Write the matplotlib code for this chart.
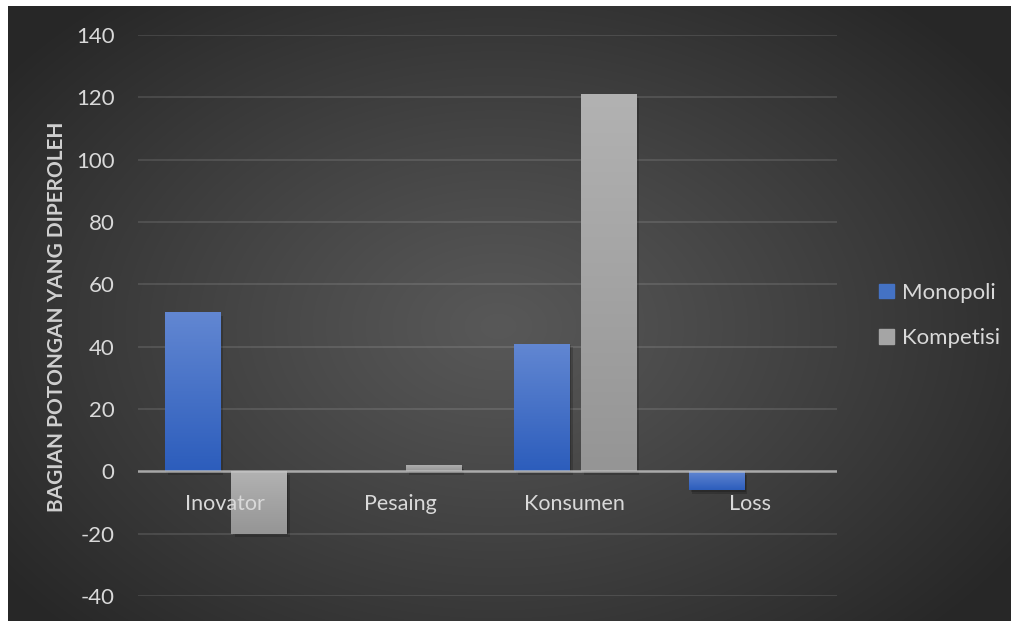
import numpy as np
import matplotlib
matplotlib.use("Agg")
import matplotlib.pyplot as plt
from matplotlib.patches import Rectangle
import matplotlib.patheffects as pe

plt.rcParams['font.family'] = ['Lato', 'DejaVu Sans']

# Data
categories = ["Inovator", "Pesaing", "Konsumen", "Loss"]
monopoli = [51, 0, 41, -6]
kompetisi = [-20, 2, 121, 0]
series_names = ["Monopoli", "Kompetisi"]
y_ticks = [-40, -20, 0, 20, 40, 60, 80, 100, 120, 140]
y_label = "BAGIAN POTONGAN YANG DIPEROLEH"

W, H = 1012, 621
fig = plt.figure(figsize=(W / 100, H / 100), dpi=100, facecolor="white")

# Dark radial-gradient backdrop (white margin on the left and top)
bg_ax = fig.add_axes([8 / W, 0, 1 - 8 / W, 1 - 6 / H])
bg_ax.set_axis_off()
yy, xx = np.mgrid[0:615, 0:1004]
cx, cy = 490, 320
r = np.sqrt(((xx - cx) / 620.0) ** 2 + ((yy - cy) / 430.0) ** 2)
r = np.clip(r, 0, 1)
c_in, c_out = 0x58 / 255, 0x27 / 255
val = c_in + (c_out - c_in) * r ** 1.1
bg = np.dstack([val, val, val])
bg_ax.imshow(bg, aspect="auto", extent=[0, 1, 0, 1], origin="upper")
bg_ax.set_xlim(0, 1)
bg_ax.set_ylim(0, 1)

ax = fig.add_axes([138 / W, 1 - 596 / H, (837 - 138) / W, (596 - 35) / H])
ax.set_facecolor("none")
for s in ax.spines.values():
    s.set_visible(False)

x = np.arange(len(categories))
bw = 0.315
off = 0.19

shadow = [pe.SimplePatchShadow(offset=(2.5, -2.5), shadow_rgbFace="black", alpha=0.18),
          pe.SimplePatchShadow(offset=(1.2, -1.2), shadow_rgbFace="black", alpha=0.18),
          pe.Normal()]

bars_m = ax.bar(x - off, monopoli, bw, color="#4672c8", linewidth=0, zorder=3)
bars_k = ax.bar(x + off, kompetisi, bw, color="#a5a5a5", linewidth=0, zorder=3)

blue_top, blue_bot = np.array([0x62, 0x87, 0xd2]) / 255, np.array([0x2c, 0x5d, 0xbc]) / 255
gray_top, gray_bot = np.array([0xb2, 0xb2, 0xb2]) / 255, np.array([0x95, 0x95, 0x95]) / 255

def fill_gradient(bars, top, bot):
    t = np.linspace(0, 1, 256)[:, None]
    grad = (top[None, :] * (1 - t) + bot[None, :] * t)[:, None, :]
    for b in bars:
        h = b.get_height()
        if h == 0:
            b.set_visible(False)
            continue
        b.set_path_effects(shadow)
        x0, y0, w = b.get_x(), b.get_y(), b.get_width()
        lo, hi = min(y0, y0 + h), max(y0, y0 + h)
        im = ax.imshow(grad, extent=[x0, x0 + w, lo, hi], origin="upper",
                       aspect="auto", zorder=4, interpolation="bilinear")
        im.set_clip_path(b)

fill_gradient(bars_m, blue_top, blue_bot)
fill_gradient(bars_k, gray_top, gray_bot)

ax.set_xlim(-0.5, len(categories) - 0.5)
ax.set_ylim(-40, 140)
ax.set_aspect("auto")

# Gridlines and zero axis
for v in y_ticks:
    if v != 0:
        ax.axhline(v, color="white", alpha=0.13, linewidth=1.2, zorder=1)
ax.axhline(0, color="#c4c4c4", alpha=0.8, linewidth=1.8, zorder=5)

ax.set_yticks(y_ticks)
ax.set_yticklabels([str(v) for v in y_ticks])
ax.tick_params(axis="y", length=0, pad=17, labelsize=16, labelcolor="#d9d9d9")
ax.set_xticks([])

# Category labels sit just below the zero axis
for i, c in enumerate(categories):
    ax.annotate(c, xy=(x[i], 0), xytext=(0, -23.5), textcoords="offset points",
                ha="center", va="center", fontsize=15.5, color="#d9d9d9", zorder=6)

fig.text(57 / W, 1 - 317 / H, y_label, rotation=90, ha="center", va="center",
         fontsize=15, fontweight="bold", color="#d0d0d0")

handles = [Rectangle((0, 0), 1, 1, color="#4472c4"), Rectangle((0, 0), 1, 1, color="#a5a5a5")]
leg = fig.legend(handles, series_names, loc="center left",
                 bbox_to_anchor=(868 / W, 1 - 315.5 / H), frameon=False,
                 fontsize=16, labelcolor="#d9d9d9", handlelength=0.65, handleheight=0.65,
                 handletextpad=0.4, labelspacing=1.15, borderpad=0)

fig.savefig("out.png", dpi=100, facecolor="white")
